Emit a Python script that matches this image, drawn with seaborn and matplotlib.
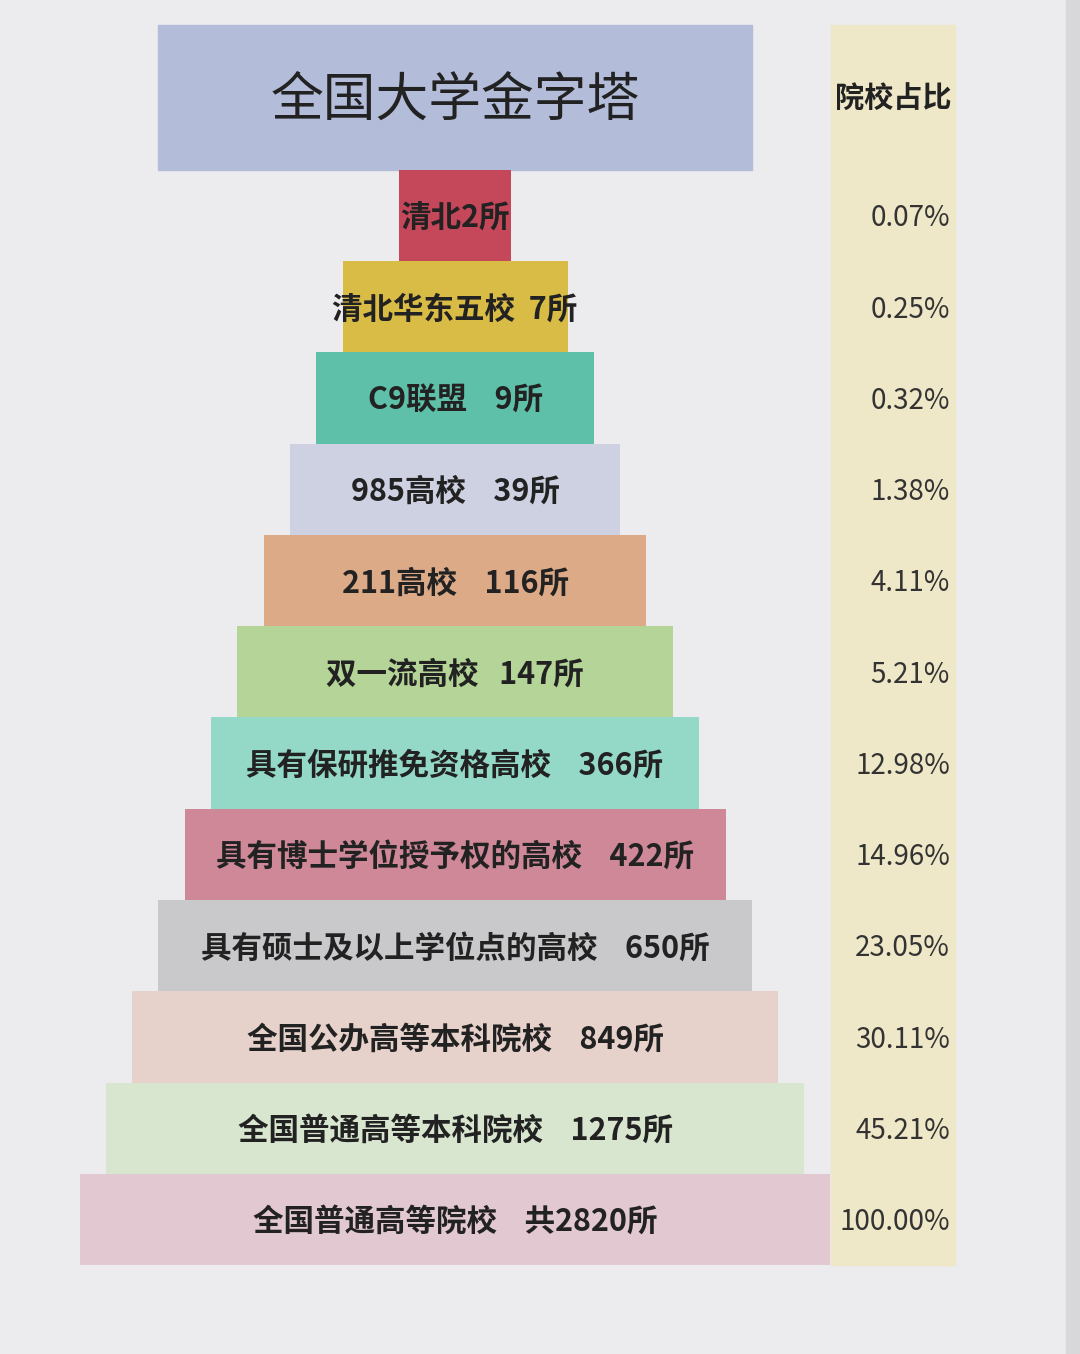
import matplotlib as mpl
import matplotlib.pyplot as plt
import seaborn as sns
import pandas as pd

mpl.rc('font', family='Noto Sans CJK SC')

labels = ["清北2所", "清北华东五校  7所", "C9联盟    9所", "985高校    39所", "211高校    116所",
          "双一流高校   147所", "具有保研推免资格高校    366所", "具有博士学位授予权的高校    422所",
          "具有硕士及以上学位点的高校    650所", "全国公办高等本科院校    849所",
          "全国普通高等本科院校    1275所", "全国普通高等院校    共2820所"]
shares = ["0.07%", "0.25%", "0.32%", "1.38%", "4.11%", "5.21%", "12.98%", "14.96%",
          "23.05%", "30.11%", "45.21%", "100.00%"]
# pyramid widths in pixels (layout)
widths = [112, 225, 278, 330, 382, 436, 488, 541, 594, 646, 698, 750]
colors = ["#C4475A", "#D9BC45", "#5EC0A8", "#CDD1E2", "#DDAA88", "#B5D498",
          "#94D8C8", "#CE8898", "#C9C9CC", "#E6D2CB", "#D8E6D0", "#E2C8D0"]
CENTER = 455

df = pd.DataFrame({"label": labels, "w": widths})

fig = plt.figure(figsize=(10.8, 13.54), dpi=100, facecolor="#ECEBEE")
bg = fig.add_axes([0, 0, 1, 1])
bg.set_xlim(0, 1080); bg.set_ylim(1354, 0); bg.axis("off")
bg.add_patch(plt.Rectangle((1066, 0), 14, 1354, color="#D8D8DA"))
bg.add_patch(plt.Rectangle((831, 25), 124, 1240, color="#EFE8C8"))
bg.add_patch(plt.Rectangle((158, 25), 594, 145, color="#B3BDD9"))
bg.text(455, 100, "全国大学金字塔", fontsize=38, ha="center", va="center", color="#222")
bg.text(893, 98, "院校占比", fontsize=21, fontweight="bold", ha="center", va="center", color="#222")

ax = fig.add_axes([0, 89 / 1354, 1, 1095 / 1354])
ax.patch.set_alpha(0)
sns.barplot(data=df, x="w", y="label", hue="label", palette=colors, legend=False,
            width=1.0, orient="h", saturation=1, ax=ax)
ax.set_xlim(0, 1080)
ax.set_ylim(11.5, -0.5)
ax.axis("off")
for i, p in enumerate(ax.patches):
    p.set_x(CENTER - p.get_width() / 2)
    p.set_linewidth(0)
    t = ax.text(CENTER, i + 0.03, labels[i], fontsize=22, fontweight="bold", ha="center",
                va="center", color="#222")
    t.set_clip_path(p)
    ax.text(950, i + 0.03, shares[i], fontsize=20, ha="right", va="center", color="#333")

fig.savefig("out.png", dpi=100, facecolor=fig.get_facecolor())
